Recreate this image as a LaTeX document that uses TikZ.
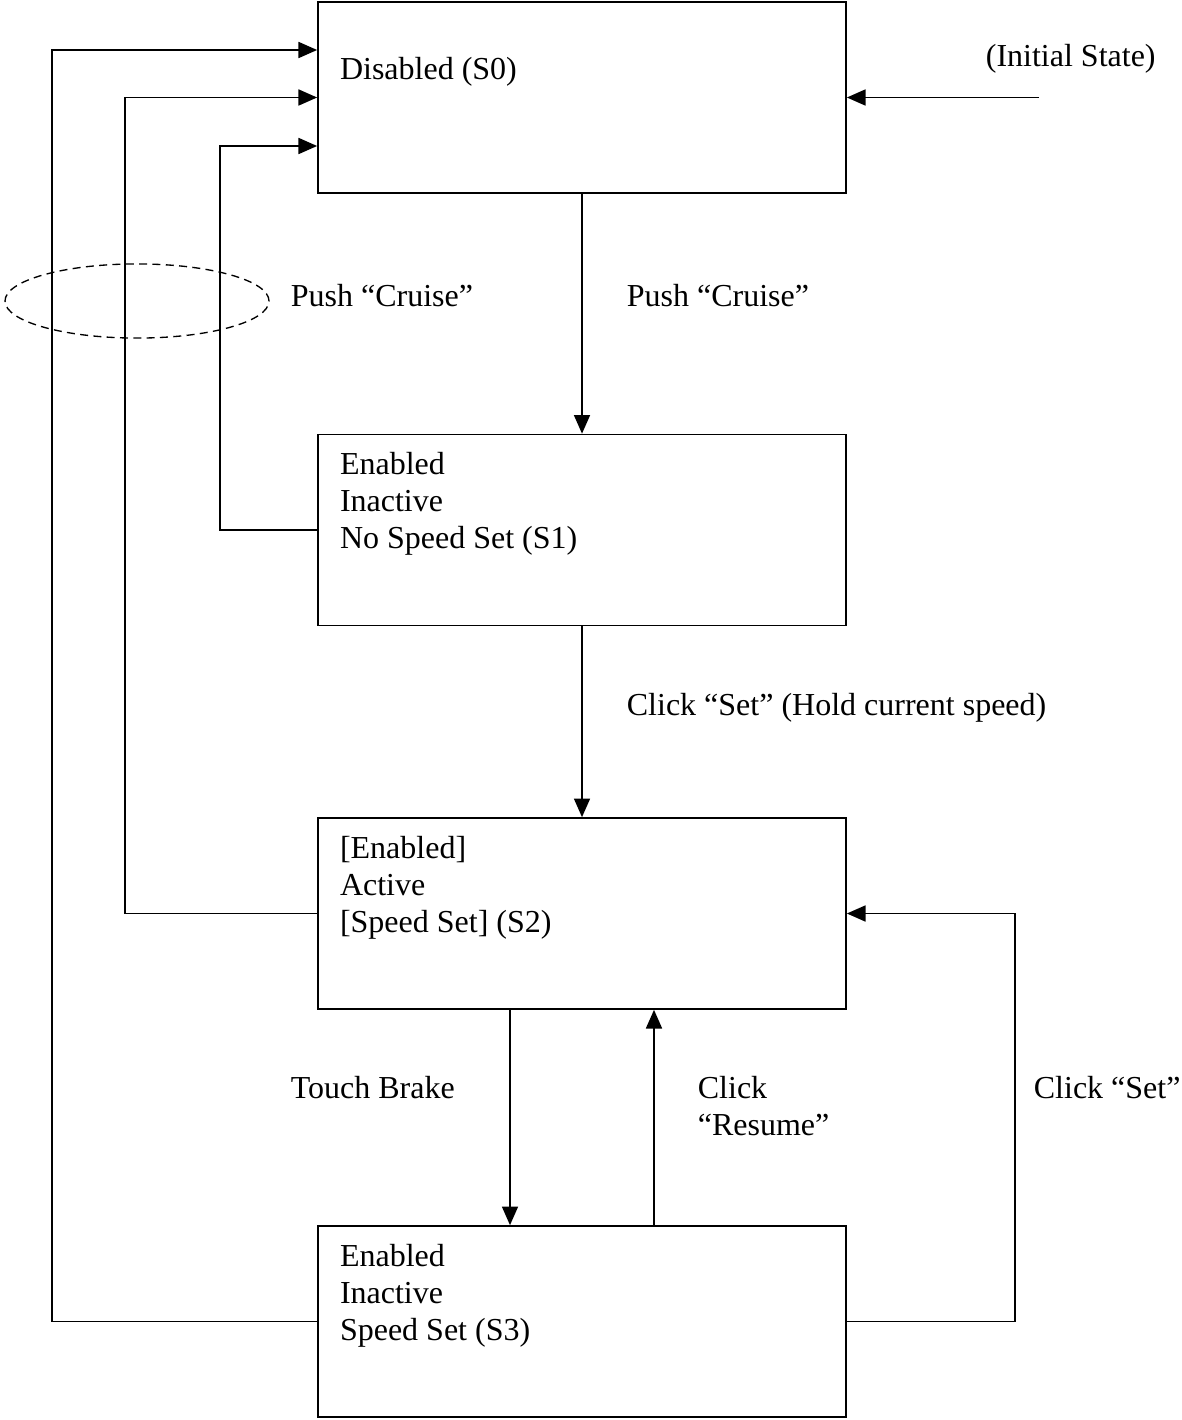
\documentclass[tikz,border=0pt]{standalone}
\usepackage{fontspec}
\setmainfont{Liberation Serif}
\usetikzlibrary{positioning, calc, arrows.meta}

\begin{document}
\begin{tikzpicture}[x=0.375pt, y=-0.375pt, >={Triangle[length=7pt, width=6pt]}, line width=0.65pt,
    state/.style={draw, minimum width=198pt, minimum height=71.6pt, inner sep=0pt},
    txt/.style={font=\fontsize{12}{13.875}\selectfont, inner sep=0pt, align=left, anchor=base west}]

    \useasboundingbox (0,0) rectangle (1181,1420);

    % ================= States =================
    \node[state] (s0) at (582,97.5) {};
    \node[state] (s1) at (582,530) {};
    \node[state] (s2) at (582,913.5) {};
    \node[state] (s3) at (582,1321.5) {};

    % State texts (base = last line)
    \node[txt] (t0) at ($(s0.north west)+(22,78)$) {Disabled (S0)};
    \node[txt] (t1) at ($(s1.north west)+(22,115)$) {Enabled\\Inactive\\No Speed Set (S1)};
    \node[txt] (t2) at ($(s2.north west)+(22,115)$) {[Enabled]\\Active\\{[Speed Set] (S2)}};
    \node[txt] (t3) at ($(s3.north west)+(22,115)$) {Enabled\\Inactive\\Speed Set (S3)};

    % ================= Transitions =================
    \draw[->] (s0) -- (s1);
    \draw[->] (s1) -- (s2);
    \draw[->] ($(s2.south)+(-72,0)$) -- ($(s3.north)+(-72,0)$);
    \draw[->] ($(s3.north)+(72,0)$) -- ($(s2.south)+(72,0)$);
    \draw[->] (s3.east) -- ++(168,0) |- (s2.east);

    % Back to Disabled
    \draw[->] (s3.west) -- ++(-265,0) |- ($(s0.west)+(0,-47.5)$);
    \draw[->] (s2.west) -- ++(-192,0) |- (s0.west);
    \draw[->] (s1.west) -- ++(-97,0) |- ($(s0.west)+(0,48.5)$);

    % Initial state arrow
    \coordinate (init) at (1039,97.5);
    \coordinate (bend) at (966,97.5);
    \draw[line width=0.4pt] (init) -- (bend);
    \draw[->] (bend) -- (s0.east);

    % Dashed ellipse
    \draw[line width=0.5pt, dash pattern=on 3pt off 2pt] (137,301) ellipse [x radius=49.5pt, y radius=13.9pt];

    % ================= Labels =================
    \node[txt] (linit) at (985,67) {(Initial State)};
    \node[txt] (lpush) at (290,306) {Push “Cruise”};
    \node[txt] (lcruise) at (626,306) {Push “Cruise”};
    \node[txt] (lhold) at (626,715) {Click “Set” (Hold current speed)};
    \node[txt] (lbrake) at (290,1098) {Touch Brake};
    \node[txt] (lresume) at (697,1135) {Click\\“Resume”};
    \node[txt] (lset) at (1033,1098) {Click “Set”};

\end{tikzpicture}
\end{document}
